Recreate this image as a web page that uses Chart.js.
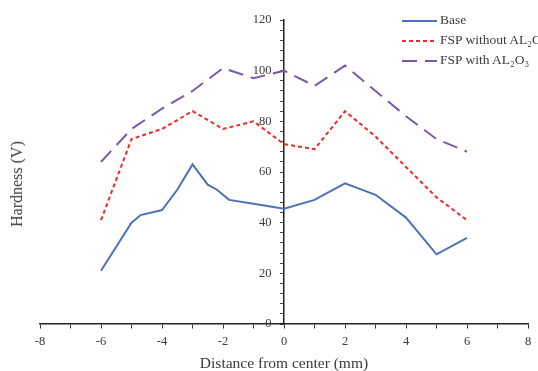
<!DOCTYPE html>
<html>
<head>
<meta charset="utf-8">
<script src="https://cdn.jsdelivr.net/npm/chart.js@4"></script>
<style>
    body { margin: 0; overflow: hidden; background: #fff; }
    #wrap { position: relative; width: 538px; height: 371px; overflow: hidden; }
    #ytitle {
        position: absolute; left: 17px; top: 184px;
        transform: translate(-50%, -50%) rotate(-90deg);
        font: 16px 'Liberation Serif', serif; color: #3a3a3a; white-space: nowrap;
    }
    #legend {
        position: absolute; left: 402px; top: 10px;
        font: 13.5px 'Liberation Serif', serif; color: #3a3a3a; white-space: nowrap;
    }
    .row { height: 20px; line-height: 20px; }
    .sample { display: inline-block; width: 35px; height: 2px; vertical-align: middle; margin-right: 3px; }
</style>
</head>
<body>
<div id="wrap">
    <canvas id="chart" width="538" height="371"></canvas>
    <div id="ytitle">Hardness (V)</div>
    <div id="legend"></div>
</div>
<script>
// valores
const seriesNames = ['Base', 'FSP without AL₂O₃', 'FSP with AL₂O₃'];

const baseX = [-6, -5, -4.7, -4, -3.5, -3, -2.5, -2.2, -1.8, -1, 0, 1, 2, 3, 4, 5, 6];
const baseY = [21, 40, 43, 45, 53, 63, 55, 53, 49, 47.5, 45.5, 49, 55.5, 51, 42, 27.5, 34];

const fspX = [-6, -5, -4, -3, -2, -1, 0, 1, 2, 3, 4, 5, 6];
const fspWithoutY = [41, 73, 77, 84, 77, 80, 71, 69, 84, 74, 62, 50, 41];
const fspWithY = [64, 77, 85, 92, 101, 97, 100, 94, 102, 92, 82, 73, 68];

const xTicks = [-8, 8];
const yTicks = [0, 120];

function toPoints(xs, ys) {
    return xs.map((x, i) => ({ x: x, y: ys[i] }));
}

const colors = ['#4d72b8', '#ee2a2a', '#7a5aa8'];
const dashes = [[], [4, 3], [15, 8]];

const ctx = document.getElementById('chart').getContext('2d');
const chart = new Chart(ctx, {
    type: 'line',
    data: {
        datasets: [
            { label: seriesNames[0], data: toPoints(baseX, baseY) },
            { label: seriesNames[1], data: toPoints(fspX, fspWithoutY) },
            { label: seriesNames[2], data: toPoints(fspX, fspWithY) }
        ].map((ds, i) => Object.assign(ds, {
            borderColor: colors[i],
            borderWidth: 2,
            borderDash: dashes[i],
            pointRadius: 0,
            tension: 0,
            fill: false
        }))
    },
    options: {
        responsive: false,
        animation: false,
        devicePixelRatio: 1,
        layout: { padding: { left: 40, right: 10, top: 20, bottom: 47 } },
        plugins: { legend: { display: false }, tooltip: { enabled: false } },
        scales: {
            x: {
                type: 'linear',
                min: xTicks[0],
                max: xTicks[1],
                position: { y: 0 },
                grid: { drawOnChartArea: false, tickLength: 4, color: '#333' },
                border: { color: '#222', width: 1.5 },
                ticks: {
                    stepSize: 1,
                    autoSkip: false,
                    maxRotation: 0,
                    padding: 6,
                    color: '#3a3a3a',
                    font: { family: 'Liberation Serif', size: 12.5 },
                    callback: v => (v % 2 === 0 ? v : '')
                },
                title: {
                    display: true,
                    text: 'Distance from center (mm)',
                    color: '#3a3a3a',
                    padding: { top: 0, bottom: 0 },
                    font: { family: 'Liberation Serif', size: 15.5 }
                }
            },
            y: {
                min: yTicks[0],
                max: yTicks[1],
                position: { x: 0 },
                grid: { drawOnChartArea: false, tickLength: 3, color: '#444' },
                border: { color: '#222', width: 1.5 },
                ticks: {
                    stepSize: 4,
                    autoSkip: false,
                    color: '#3a3a3a',
                    font: { family: 'Liberation Serif', size: 12.5 },
                    // eixo no centro: o Chart.js ignora o padding, então afasta com espaços
                    callback: v => (v % 20 === 0 ? v + '\u2002\u2002' : '')
                }
            }
        }
    }
});

// legenda em HTML
const legend = document.getElementById('legend');
chart.data.datasets.forEach((ds, i) => {
    const row = document.createElement('div');
    row.className = 'row';
    const sample = document.createElement('span');
    sample.className = 'sample';
    const d = dashes[i];
    if (d.length) {
        sample.style.background = `repeating-linear-gradient(to right, ${colors[i]} 0 ${d[0]}px, transparent ${d[0]}px ${d[0] + d[1]}px)`;
    } else {
        sample.style.background = colors[i];
    }
    row.appendChild(sample);
    row.appendChild(document.createTextNode(ds.label));
    legend.appendChild(row);
});
</script>
</body>
</html>
